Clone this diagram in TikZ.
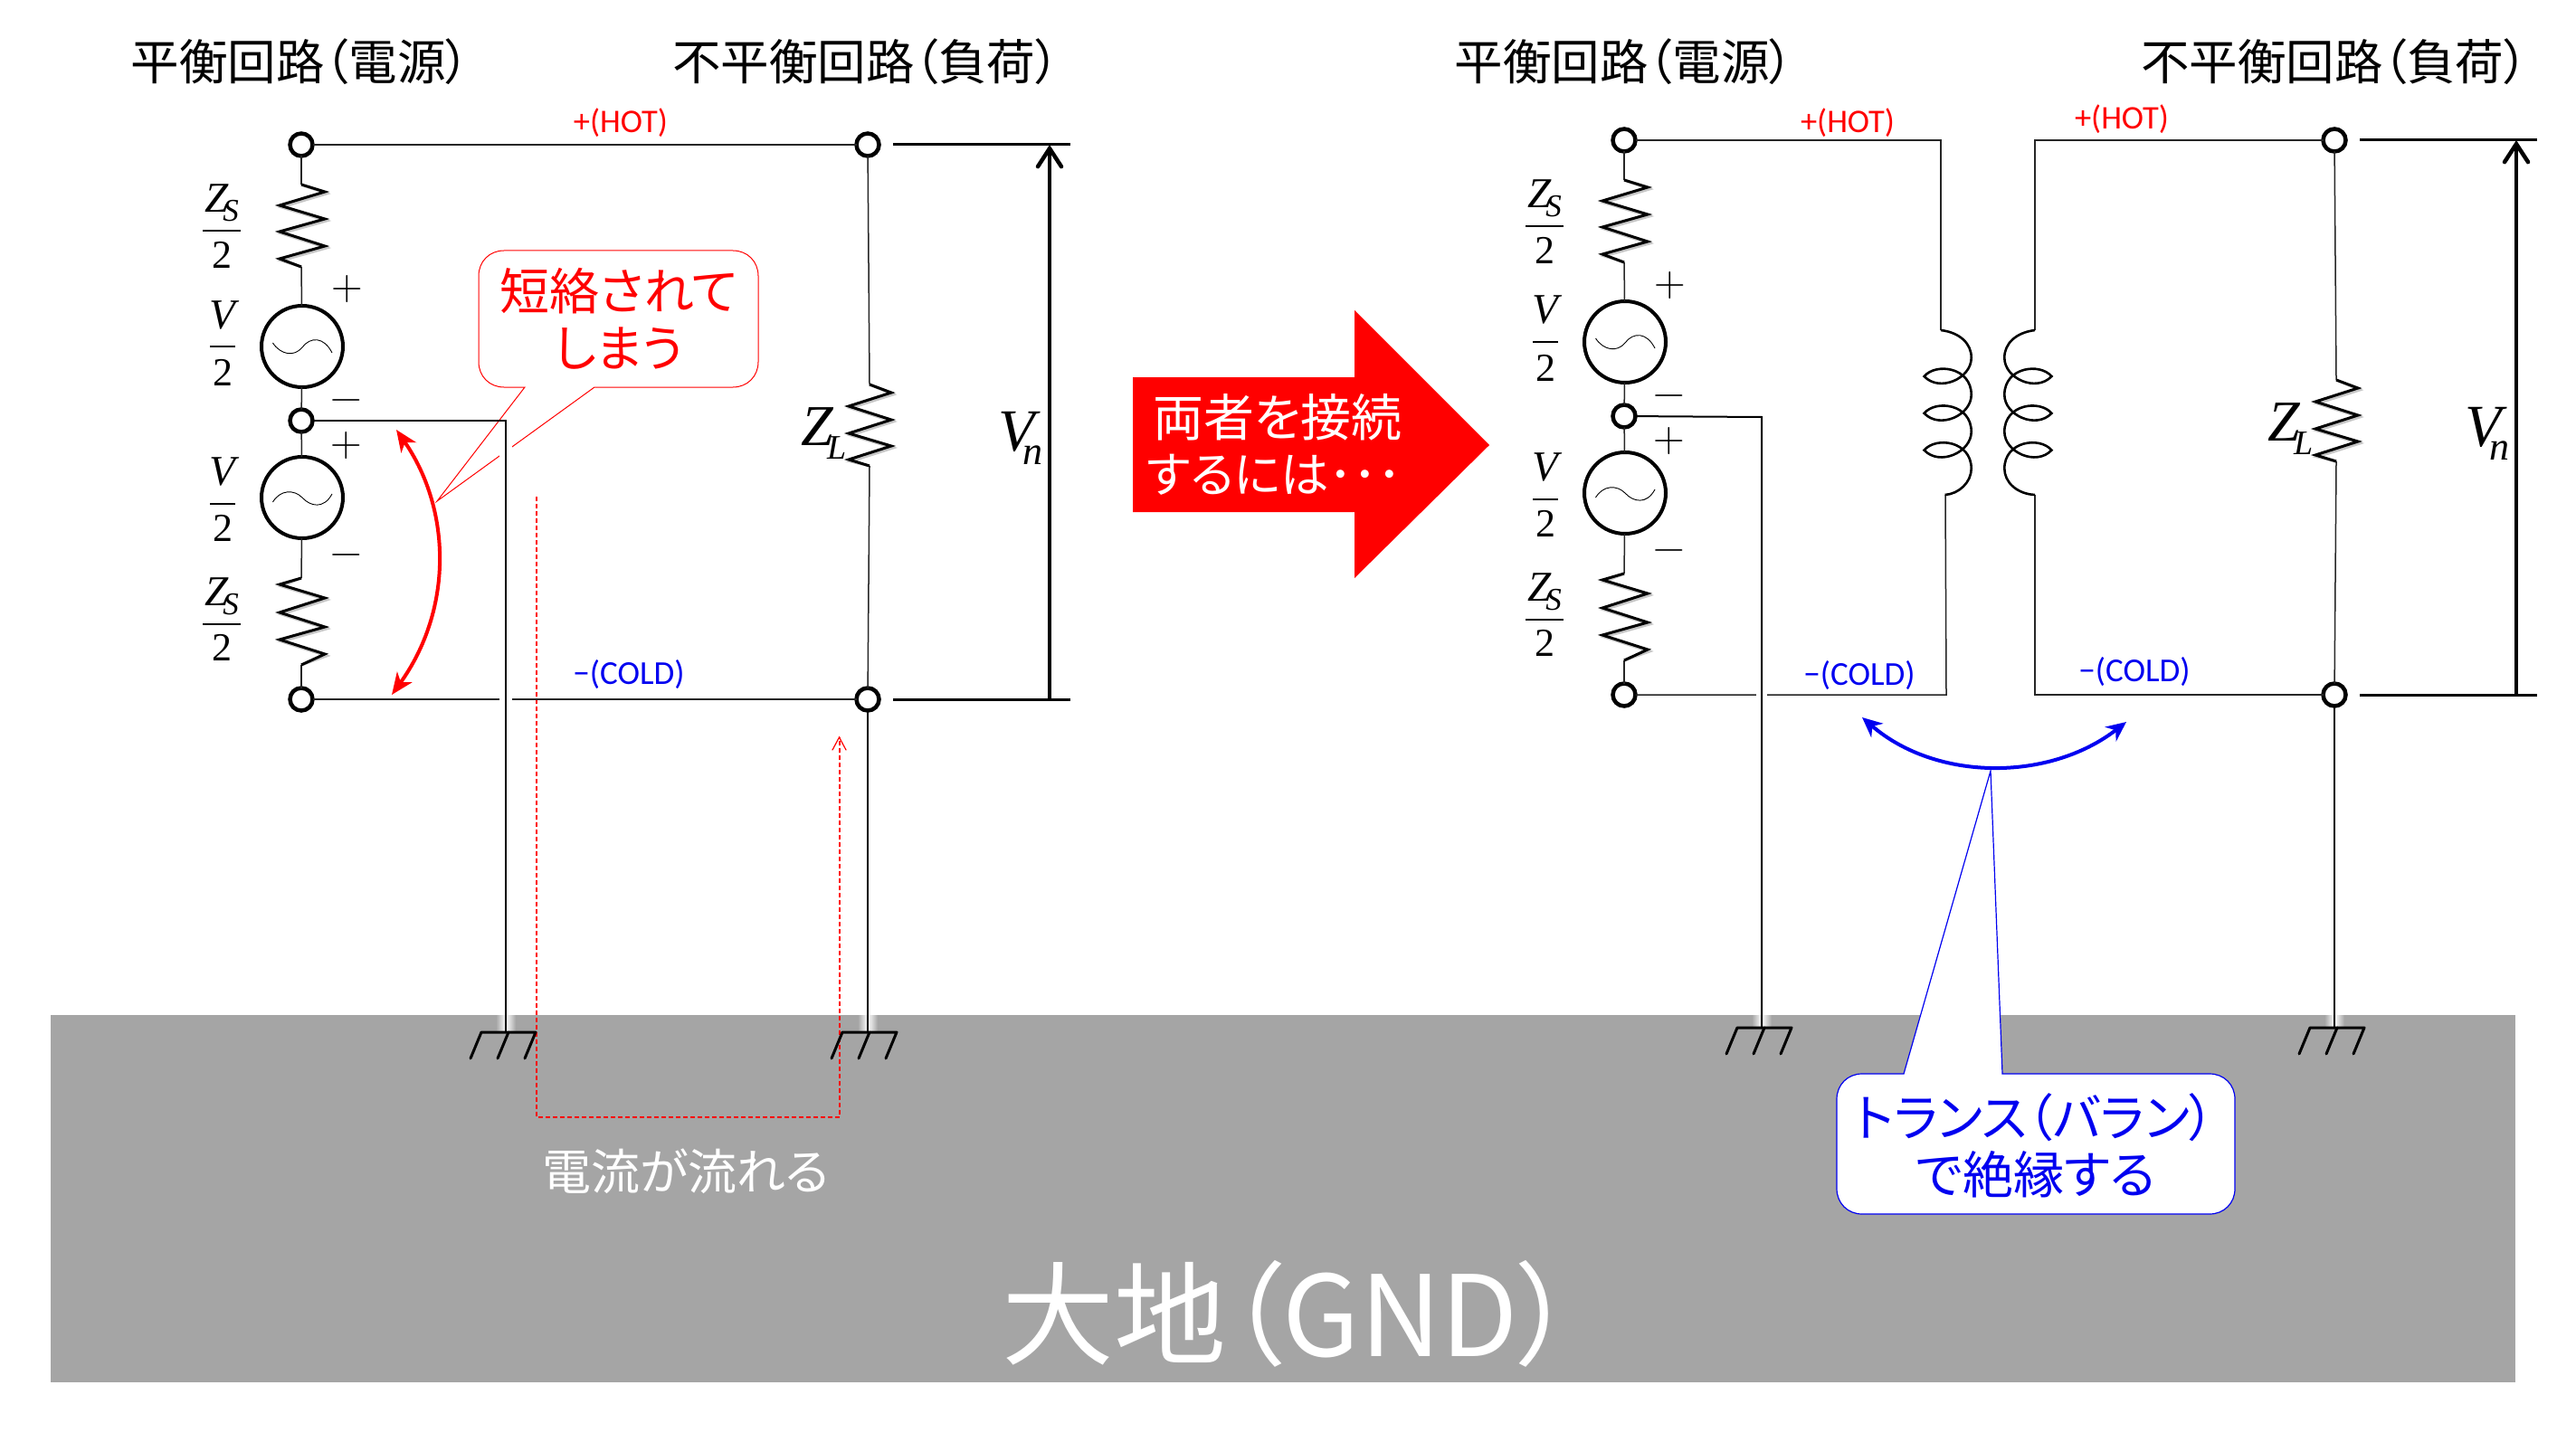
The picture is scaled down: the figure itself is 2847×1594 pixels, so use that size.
\documentclass[tikz,border=0pt]{standalone}
\usepackage{fontspec}
\usetikzlibrary{arrows.meta}
\newfontfamily\jpf[RawFeature=+palt]{Noto Sans CJK JP}
\newfontfamily\calf{Carlito}
\newfontfamily\mthf{Liberation Serif}
\newcommand\fsz[1]{\fontsize{#1}{#1}\selectfont}
\definecolor{gnd}{HTML}{A5A5A5}
\definecolor{mred}{HTML}{FF0000}
\definecolor{mblue}{HTML}{0000F0}
\tikzset{
  term/.style={circle,draw=black,fill=white,line width=4.5pt,minimum size=25pt,inner sep=0pt,outer sep=0pt},
  srcnode/.style={circle,draw=black,fill=white,line width=4pt,minimum size=90pt,inner sep=0pt,outer sep=0pt},
  wire/.style={line width=1.5pt,draw=black!85},
  hwire/.style={line width=2.8pt,draw=black},
  zig/.style={line width=3pt,draw=black,line join=miter},
  zigshadow/.style={line width=3pt,draw=black,opacity=.22},
  gndsym/.style={line width=3pt,draw=black,line cap=round,line join=round},
  fracbar/.style={line width=2.2pt,draw=black},
  sine/.style={line width=.9pt,draw=black},
  txt/.style={inner sep=0pt,outer sep=0pt},
  head/.style={txt,font=\jpf\fsz{53.5}},
  lblhot/.style={txt,text=mred,font=\calf\fsz{36.5}},
  lblcold/.style={txt,text=mblue,font=\calf\fsz{37}},
  mz/.style={txt,anchor=base,font=\mthf\itshape\fsz{47}},
  ms/.style={txt,anchor=base,font=\mthf\itshape\fsz{35}},
  mn/.style={txt,anchor=base,font=\mthf\fsz{44}},
  pm/.style={txt,anchor=base,font=\normalfont\fsz{48}},
  vnline/.style={line width=3pt,draw=black},
  vnarrow/.style={line width=4.5pt,draw=black,-{Straight Barb[length=20pt,width=26pt,line cap=round]}},
  dashr/.style={line width=1.2pt,draw=mred,dash pattern=on 5pt off 3pt},
  callr/.style={line width=1pt,draw=mred,fill=white},
  callb/.style={line width=1.2pt,draw=mblue,fill=white},
}
% balanced source side, drawn relative to the left-hand picture
\newcommand\sourceside{%
  \node[term] (top) at (333,160) {};
  \node[term] (mid) at (333,465) {};
  \node[term] (bot) at (333,773) {};
  \node[srcnode] (s1) at (334,383) {};
  \node[srcnode] (s2) at (334,550) {};
  \coordinate (ra) at (333,204); \coordinate (rb) at (333,295);
  \coordinate (rc) at (333,639); \coordinate (rd) at (333,735);
  \draw[wire] (top) -- (ra);
  \draw[wire] (rb) -- (s1);
  \draw[wire] (s1) -- (mid);
  \draw[wire] (mid) -- (s2);
  \draw[wire] (s2) -- (rc);
  \draw[wire] (rd) -- (bot);
  \foreach \d/\o in {2/zigshadow,0/zig}{
  \draw[\o,shift={(\d,\d)}] (ra) -- (359,212) -- (309,227) -- (359,242) -- (309,256) -- (359,272) -- (309,286) -- (rb);
  \draw[\o,shift={(\d,\d)}] (rc) -- (309,646) -- (359,661) -- (309,677) -- (359,693) -- (309,707) -- (359,723) -- (rd);
  }
  \draw[sine] (301.5,379) .. controls (310,392) and (325,395) .. (334,384) .. controls (343,372) and (358,372) .. (367,390);
  \draw[sine] (301.5,555) .. controls (310,541) and (325,541) .. (334,550) .. controls (343,560) and (358,563) .. (367,546);
  \node[pm] (p1) at (384,332) {+};
  \node[pm] (m1) at (383,454) {−};
  \node[pm] (p2) at (383,504) {+};
  \node[pm] (m2) at (383,625) {−};
  \node[mz] (zs1) at (240,235) {Z}; \node[ms] (ss1) at (255,245) {S}; \node[mn] (t1) at (245,297) {2};
  \draw[fracbar] (224,255) -- (266,255);
  \node[mz] (v1) at (246,363) {V}; \node[mn] (t2) at (246,426) {2};
  \draw[fracbar] (232,383) -- (260,383);
  \node[mz] (v2) at (246,536) {V}; \node[mn] (t3) at (246,598) {2};
  \draw[fracbar] (232,557) -- (260,557);
  \node[mz] (zs2) at (240,669) {Z}; \node[ms] (ss2) at (255,679) {S}; \node[mn] (t4) at (245,730) {2};
  \draw[fracbar] (224,690) -- (266,690);
}
% unbalanced load side
\newcommand\loadside{%
  \node[term] (ltop) at (959,160) {};
  \node[term] (lbot) at (959,773) {};
  \coordinate (za) at (961,425); \coordinate (zb) at (961,515);
  \draw[wire] (ltop) -- (za);
  \draw[wire] (zb) -- (lbot);
  \foreach \d/\o in {2/zigshadow,0/zig}{
  \draw[\o,shift={(\d,\d)}] (za) -- (985,434) -- (938,449) -- (985,464) -- (938,479) -- (985,493) -- (938,508) -- (zb);
  }
  \node[txt,anchor=base,font=\mthf\itshape\fsz{64}] (zl) at (903,492) {Z};
  \node[txt,anchor=base,font=\mthf\itshape\fsz{38}] (zll) at (925,507) {L};
  \node[txt,anchor=base,font=\mthf\itshape\fsz{66}] (vn) at (1124,498) {V};
  \node[txt,anchor=base,font=\mthf\itshape\fsz{44}] (vnn) at (1141,513) {n};
  \coordinate (va) at (987,160); \coordinate (vb) at (1183,160);
  \coordinate (vc) at (987,773); \coordinate (vd) at (1183,773);
  \coordinate (ve) at (1160,773); \coordinate (vf) at (1160,160);
  \draw[vnline] (va) -- (vb);
  \draw[vnline] (vc) -- (vd);
  \draw[vnarrow] (ve) -- (vf);
}
\newcommand\gndsymbol{%
  \draw[gndsym] (-12,29) -- (0,0) -- (60,0) -- (48,29);
  \draw[gndsym] (18,29) -- (30,0);
}
\newcommand\coilpath[1]{(0,0) .. controls (21,2.5) and (34,15) .. (33.7,30.6)
  .. controls (33.7,53.5) and (-1.5,69) .. (-18.4,51) .. controls (-5.4,35.7) and (33.7,40.8) .. (33.7,71.4)
  .. controls (33.7,94.3) and (-1.5,109.8) .. (-18.4,91.8) .. controls (-5.4,76.5) and (33.7,81.6) .. (33.7,112.2)
  .. controls (33.7,135.1) and (-1.5,150.6) .. (-18.4,132.6) .. controls (-5.4,117.3) and (33.7,122.4) .. (33.7,153)
  .. controls (33.7,168) and (20,181) .. (#1,182)}
\begin{document}
\begin{tikzpicture}[x=1pt,y=-1pt]
\useasboundingbox (0,0) rectangle (2847,1594);
\fill[white] (0,0) rectangle (2847,1594);
% ground plane
\fill[gnd] (56,1122) rectangle (2780,1528);
\foreach \gx/\gy in {559/1141,959/1141,1947/1136,2580/1136}{
  \shade[left color=gnd,right color=gnd,middle color=white] (\gx-11,1122) rectangle (\gx+11,\gy);
}
\node[txt,text=white,font=\jpf\fsz{124}] (gndtxt) at (1424,1452) {大地（GND）};
\node[txt,text=white,font=\jpf\fsz{54}] (flow) at (758,1295) {電流が流れる};
% headings
\node[head] (h1) at (332,68) {平衡回路（電源）};
\node[head] (h2) at (957,68) {不平衡回路（負荷）};
\node[head] (h3) at (1795,68) {平衡回路（電源）};
\node[head] (h4) at (2580,68) {不平衡回路（負荷）};
% current path
\coordinate (ca) at (593,549); \coordinate (cb) at (593,1235);
\coordinate (cc) at (928,1235); \coordinate (cd) at (928,815);
\draw[dashr] (ca) -- (cb) -- (cc) -- (cd);
\draw[line width=1.2pt,draw=mred,line cap=round] (920,829) -- (927.5,815) -- (935,829);
% red callout
\draw[callr] (557,277) -- (810,277) .. controls (826,277) and (838,289) .. (838,305)
  -- (838,400) .. controls (838,416) and (826,428) .. (810,428)
  -- (657,428) -- (483,554) -- (580,428) -- (557,428)
  .. controls (541,428) and (529,416) .. (529,400) -- (529,305)
  .. controls (529,289) and (541,277) .. (557,277) -- cycle;
\node[txt,text=mred,font=\jpf\fsz{55}] (cr1) at (684,322) {短絡されて};
\node[txt,text=mred,font=\jpf\fsz{55}] (cr2) at (684,385) {しまう};
% left circuit
\begin{scope}[name prefix=L]
  \sourceside
\end{scope}
\begin{scope}[name prefix=A]
  \loadside
\end{scope}
\draw[wire] (Ltop) -- (Altop);
\draw[wire] (Lbot) -- (Albot);
\node[lblhot] (hot1) at (686,136) {+(HOT)};
\node[lblcold] (cold1) at (695,746) {−(COLD)};
\draw[line width=14pt,white] (559,478) -- (559,1118);
\coordinate (g1c) at (559,465); \coordinate (g1) at (559,1141);
\draw[hwire] (Lmid) -- (g1c) -- (g1);
\begin{scope}[shift={(532,1141)}] \gndsymbol \end{scope}
\coordinate (g2) at (959,1141);
\draw[hwire] (Albot) -- (g2);
\begin{scope}[shift={(931,1141)}] \gndsymbol \end{scope}
% red short-circuit arrow
\draw[line width=4pt,draw=mred,{Stealth[length=24pt,width=20pt,inset=7pt]}-{Stealth[length=24pt,width=20pt,inset=7pt]}]
  (438,475) .. controls (500,565) and (500,675) .. (433,768);
% big arrow
\fill[mred] (1252,417) -- (1497,417) -- (1497,343) -- (1646,492) -- (1497,639) -- (1497,566) -- (1252,566) -- cycle;
\node[txt,text=white,font=\jpf\fsz{56}] (ar1) at (1412,461) {両者を接続};
\node[txt,text=white,font=\jpf\fsz{53.5}] (ar2) at (1408,525) {するには･･･};
% right circuit
\begin{scope}[shift={(1462,-5)},name prefix=R]
  \sourceside
\end{scope}
\begin{scope}[shift={(1621,-5)},name prefix=B]
  \loadside
\end{scope}
\coordinate (pa) at (2145,155); \coordinate (pb) at (2145,365);
\coordinate (pc) at (2150,547); \coordinate (pd) at (2151,768);
\coordinate (qa) at (2249,155); \coordinate (qb) at (2249,365);
\coordinate (qc) at (2249,547); \coordinate (qd) at (2249,768);
\draw[wire] (Rtop) -- (pa) -- (pb);
\draw[wire] (pc) -- (pd) -- (Rbot);
\draw[wire] (Bltop) -- (qa) -- (qb);
\draw[wire] (qc) -- (qd) -- (Blbot);
\draw[line width=2.6pt,shift={(2145,365)}] \coilpath{4.6};
\draw[line width=2.6pt,shift={(2249,365)},xscale=-1] \coilpath{0};
\node[lblhot] (hot2) at (2042,136) {+(HOT)};
\node[lblhot] (hot3) at (2345,132) {+(HOT)};
\node[lblcold] (cold2) at (2055,747) {−(COLD)};
\node[lblcold] (cold3) at (2359,743) {−(COLD)};
\draw[line width=12pt,white] (1947,474) -- (1947,1118);
\coordinate (g3c) at (1947,461); \coordinate (g3) at (1947,1136);
\draw[line width=2pt] (Rmid) -- (g3c) -- (g3);
\begin{scope}[shift={(1920,1136)}] \gndsymbol \end{scope}
\coordinate (g4) at (2580,1136);
\draw[hwire] (Blbot) -- (g4);
\begin{scope}[shift={(2553,1136)}] \gndsymbol \end{scope}
% blue arrow
\draw[line width=4pt,draw=mblue,{Stealth[length=22pt,width=20pt,inset=7pt]}-{Stealth[length=22pt,width=20pt,inset=7pt]}]
  (2058,793) .. controls (2140,864) and (2265,864) .. (2350,798);
% blue callout
\draw[callb] (2058,1187) -- (2104,1187) -- (2200,852) -- (2213,1187) -- (2442,1187)
  .. controls (2458,1187) and (2470,1199) .. (2470,1215) -- (2470,1314)
  .. controls (2470,1330) and (2458,1342) .. (2442,1342) -- (2058,1342)
  .. controls (2042,1342) and (2030,1330) .. (2030,1314) -- (2030,1215)
  .. controls (2030,1199) and (2042,1187) .. (2058,1187) -- cycle;
\node[txt,text=mblue,font=\jpf\fsz{56}] (cb1) at (2249,1235) {トランス（バラン）};
\node[txt,text=mblue,font=\jpf\fsz{56}] (cb2) at (2250,1298) {で絶縁する};
\end{tikzpicture}
\end{document}
